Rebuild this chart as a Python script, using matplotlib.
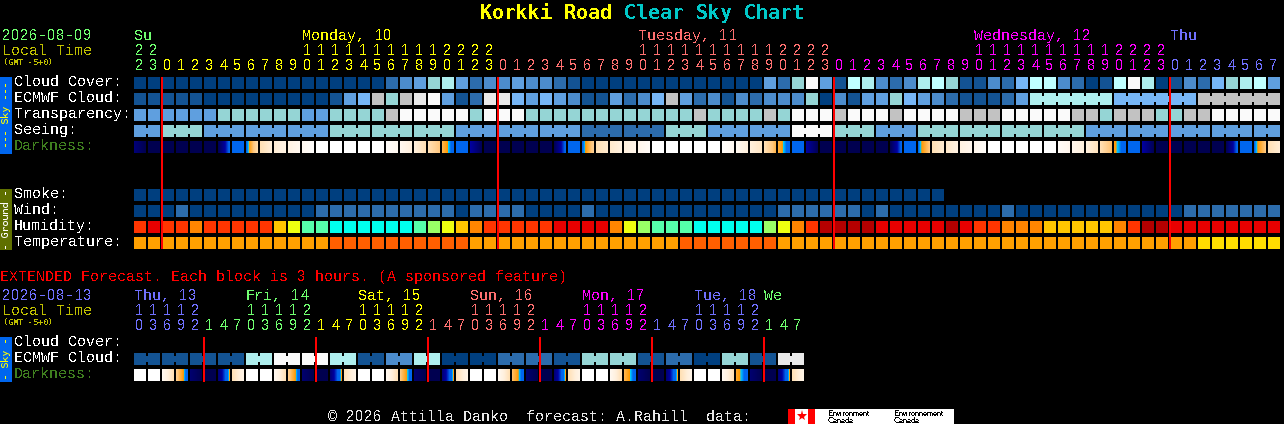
import re

import numpy as np
import matplotlib
matplotlib.use("Agg")
import matplotlib.pyplot as plt
from matplotlib.colors import LinearSegmentedColormap

plt.rcParams["text.antialiased"] = False
plt.rcParams["text.hinting"] = "native"
plt.rcParams["text.hinting_factor"] = 1

# cloud style palette, index 11 is the "too cloudy" gray
SKY = ["#003F7F", "#135393", "#2C6CAC", "#4C8CCC", "#5F9FDF", "#76B6F6",
       "#95D5D5", "#AEEEEE", "#BFFFFF", "#E9E9E9", "#FAFAFA", "#C2C2C2"]
HUMID = ["#B50000", "#E80000", "#FF3500", "#FF8500", "#FFC500", "#EEFF10",
         "#99FF66", "#55FFAA", "#00FFEE"]
TEMP = ["#FFA000", "#FF5F00", "#FFDD00"]

GREEN, YELLOW, SALMON, MAGENTA, BLUE = "#70FF70", "#FFFF00", "#FF7070", "#FF00FF", "#7070FF"

hours = [22, 23] + list(range(24)) * 3 + list(range(8))
hour_colors = [GREEN] * 2 + [YELLOW] * 24 + [SALMON] * 24 + [MAGENTA] * 24 + [BLUE] * 8
day_labels = ["Su", "Monday, 10", "Tuesday, 11", "Wednesday, 12", "Thu"]
day_cols = [0, 12, 36, 60, 74]
day_colors = [GREEN, YELLOW, SALMON, MAGENTA, BLUE]
midnights = [2, 26, 50, 74]

cloud_cover = [0, 0, 0, 0, 0, 0, 0, 0, 0, 0, 0, 0, 0, 0, 0, 0, 0, 0, 2, 3, 4, 6,
               7, 4, 2, 3, 3, 4, 3, 3, 2, 1, 0, 0, 0, 0, 0, 0, 0, 0, 0, 0, 0, 0, 0,
               4, 2, 6, 10, 4, 1, 8, 7, 3, 2, 3, 7, 8, 6, 1, 1, 3, 2, 5, 8, 8, 3, 2,
               0, 1, 8, 10, 7, 0, 1, 3, 2, 5, 6, 7, 8, 4]
ecmwf_cloud = [1, 1, 1, 1, 1, 0, 0, 0, 0, 0, 0, 0, 0, 0, 1, 4, 5, 11, 6, 11, 9, 10,
               4, 1, 2, 9, 9, 5, 4, 5, 4, 3, 1, 1, 4, 2, 3, 5, 11, 4, 2, 3, 1, 3, 2,
               3, 3, 3, 6, 0, 3, 1, 4, 4, 6, 5, 4, 3, 2, 1, 1, 1, 2, 4,
               7, 7, 7, 7, 7, 7, 5, 5, 5, 5, 5, 5, 11, 11, 11, 11, 11, 11]
ecmwf_blocks = [1] * 64 + [6] * 3
transparency = [4, 4, 4, 4, 4, 4, 6, 6, 6, 6, 6, 6, 4, 4, 6, 6, 6, 6, 11, 10, 10, 10,
                10, 10, 6, 10, 10, 10, 6, 6, 6, 6, 6, 6, 6, 6, 6, 6, 6, 6, 11, 6, 6, 6, 6,
                11, 6, 10, 10, 10, 11, 10, 10, 10, 11, 10, 10, 10, 10, 11, 11, 11,
                10, 10, 10, 10, 10, 11, 11, 6, 11, 11, 11, 6, 6, 11, 11, 10, 10, 10, 10, 10]
seeing_blocks = [2] + [3] * 26 + [2]
seeing_values = [4, 6, 4, 4, 4, 6, 6, 6, 4, 4, 4, 2, 2, 6, 4, 4, 10, 6, 4, 6, 6, 6, 6, 4, 4, 4, 4, 4]

# darkness is a gradient, value at left and right edge of each block
dark_left = [1, 0, 0, 0, 0, 0, .2, 3.3, 3.5, 6, 6.8, 7.3, 8, 9, 9, 9, 9, 9, 8.6, 8, 7, 6,
             4.6, 3.3, 2, 0, 0, 0, 0, 0, .2, 3.3, 3.5, 6, 6.6, 7, 7.7, 9, 9, 9, 9, 9, 8.6, 8, 7, 6,
             4.4, 3.3, 2, 0, 0, 0, 0, 0, .2, 3.3, 3.6, 6, 6.5, 7.2, 7.8, 9, 9, 9, 9, 9, 8.5, 7.8, 7, 6,
             4.1, 3.3, 2, 0, 0, 0, 0, 0, .2, 3.3, 3.6, 6]
dark_right = [0, 0, 0, 0, 0, 0, 3.2, 3.3, 5.8, 6.9, 7.3, 8, 8.8, 9, 9, 9, 9, 9, 8, 7, 6, 5,
              3.3, 3.3, .2, 0, 0, 0, 0, 0, 3.2, 3.3, 5.3, 6.6, 7.1, 7.7, 8.5, 9, 9, 9, 9, 9, 8, 7, 6.4, 4.6,
              3.3, 3.3, .2, 0, 0, 0, 0, 0, 3.2, 3.3, 5, 6.7, 7.2, 7.8, 8.6, 9, 9, 9, 9, 9, 7.8, 7, 6.2, 4.8,
              3.3, 3.3, .2, 0, 0, 0, 0, 0, 3.2, 3.3, 5, 6.8]

smoke = [0] * 58
wind = [0, 0, 0, 2, 0, 0, 0, 0, 0, 0, 0, 0, 0, 2, 2, 2, 2, 2, 2, 2, 2, 2, 2, 0, 2, 2, 2, 2,
        0, 0, 0, 0, 2, 0, 0, 0, 0, 0, 0, 0, 0, 0, 0, 0, 0, 0, 2, 2, 2, 2, 2, 2, 0, 2,
        0, 0, 0, 0, 0, 0, 0, 0, 2, 0, 0, 0, 0, 0, 0, 0, 0, 0, 0, 0, 0, 2, 2, 2, 2, 2, 2, 2]
humidity = [2, 1, 2, 2, 3, 2, 2, 2, 2, 2, 4, 5, 7, 7, 8, 8, 8, 8, 8, 8, 7, 6, 5, 4, 3, 2, 2, 2, 2, 2,
            1, 1, 1, 1, 3, 5, 6, 7, 7, 7, 8, 8, 8, 8, 8, 6, 5, 3, 2, 0, 0, 0, 0, 1, 1, 1, 1, 1, 0, 1,
            2, 2, 3, 3, 3, 4, 4, 4, 4, 4, 3, 2, 0, 0, 1, 1, 1, 1, 1, 1, 1, 1]
temperature = [0] * 14 + [1] * 10 + [0] * 15 + [1] * 7 + [0] * 30 + [2] * 6

# extended forecast, 3 hour blocks
ext_hours = [10, 13, 16, 19, 22, 1, 4, 7] * 6
ext_hour_colors = [BLUE] * 5 + [GREEN] * 8 + [YELLOW] * 8 + [SALMON] * 8 + [MAGENTA] * 8 + [BLUE] * 8 + [GREEN] * 3
ext_day_labels = ["Thu, 13", "Fri, 14", "Sat, 15", "Sun, 16", "Mon, 17", "Tue, 18", "We"]
ext_day_cols = [0, 8, 16, 24, 32, 40, 45]
ext_day_colors = [BLUE, GREEN, YELLOW, SALMON, MAGENTA, BLUE, GREEN]
ext_midnights = [5, 13, 21, 29, 37, 45]
ext_blocks = [2] * 24
ext_ecmwf = [1, 1, 1, 1, 7, 10, 10, 7, 1, 3, 7, 0, 0, 2, 2, 1, 6, 6, 1, 2, 0, 6, 1, 9]
ext_dark_left = [9, 9, 8, 5.2, .8, 0, 1, 6, 9, 9, 8, 5.2, .8, 0, 1, 6, 9, 9, 8, 5, .8, 0, 1, 6,
                 9, 9, 8, 4.8, .8, 0, 1, 6, 9, 9, 8, 4.6, .8, 0, 1, 6, 9, 9, 8, 4.3, .8, 0, 1, 6]
ext_dark_right = [9, 9, 6, 3.3, 0, 0, 4.1, 7.5, 9, 9, 6, 3.3, 0, 0, 4.1, 7.5, 9, 9, 6, 3.3, 0, 0, 4.1, 7.5,
                  9, 9, 6, 3.3, 0, 0, 4.1, 7.5, 9, 9, 6, 3.3, 0, 0, 4.1, 7.5, 9, 9, 6, 3.3, 0, 0, 4.1, 7.5]

dark_cmap = LinearSegmentedColormap.from_list("darkness", [
    (0.00, "#000050"), (0.20, "#0000A0"), (0.30, "#0066EE"), (0.36, "#0066EE"),
    (0.39, "#00CCFF"), (0.40, "#FF9900"), (0.50, "#FFC880"), (0.60, "#FFE0B5"),
    (0.70, "#FFF0DD"), (0.80, "#FFF8F0"), (0.90, "#FFFFFF"), (1.00, "#FFFFFF")], N=512)

LEFT = 134
STEP = 14
CELL = 12
MONO = "Liberation Mono"
DIGITS = "Liberation Sans"   # plain zero, Liberation Mono has a dotted one
TXT = 10.8
ADVANCE = 9

fig = plt.figure(figsize=(12.84, 4.24), dpi=100, facecolor="black")
ax = fig.add_axes([0, 0, 1, 1])
ax.set_facecolor("black")


def label(x, y, s, color="white", size=TXT, family=MONO, **kw):
    if family != MONO:
        ax.text(x, y, s, color=color, fontsize=size, family=family, va="baseline", **kw)
        return
    # digits go one by one into the 9 px slots of the mono font, the words in between as runs
    for m in re.finditer(r"\d|[^\d\s](?:[^\d]*[^\d\s])?", s):
        x0 = x + ADVANCE * m.start()
        if m.group().isdigit():
            ax.text(x0 + 4.5, y, m.group(), color=color, fontsize=size, family=DIGITS,
                    va="baseline", ha="center")
        else:
            ax.text(x0, y, m.group(), color=color, fontsize=size, family=MONO, va="baseline", **kw)


def cells(y, values, palette, blocks=None):
    x = LEFT + STEP * np.arange(len(values))
    ax.bar(x, CELL, CELL, bottom=y, align="edge", linewidth=0, antialiased=False,
           color=[palette[v] for v in values])
    if blocks is None:
        return
    # blocks that belong together are joined by a small bridge
    start = 0
    for n in blocks:
        for j in range(start, start + n - 1):
            ax.bar(x[j] + CELL, CELL - 6, STEP - CELL, bottom=y + 3, align="edge",
                   linewidth=0, antialiased=False, color=palette[values[j]])
        start += n


def darkness(y, left, right):
    for i, (a, b) in enumerate(zip(left, right)):
        x = LEFT + STEP * i
        ax.imshow(np.linspace(a, b, CELL)[None, :], cmap=dark_cmap, vmin=0, vmax=10,
                  extent=(x, x + CELL, y + CELL, y), aspect="auto", interpolation="nearest")


def hour_rows(y_tens, y_ones, values, colors):
    for i, (h, c) in enumerate(zip(values, colors)):
        x = LEFT + STEP * i + 1
        if h >= 10:
            label(x, y_tens, str(h // 10), c)
        label(x, y_ones, str(h % 10), c)


def side_bar(y0, y1, text, bar_color, text_color):
    ax.bar(0, y1 - y0, 12, bottom=y0, align="edge", linewidth=0, antialiased=False, color=bar_color)
    ax.text(6, (y0 + y1) / 2, text, color=text_color, fontsize=7.2, family="DejaVu Sans Mono",
            rotation=90, ha="center", va="center", antialiased=True)


# title
label(480, 19, "Korkki Road", "#FFFF00", 14.4, family="DejaVu Sans Mono", fontweight="bold")
label(624, 19, "Clear Sky Chart", "#00C8C8", 14.4, family="DejaVu Sans Mono", fontweight="bold")

# main chart header
label(2, 40, "2026-08-09", GREEN)
label(2, 55, "Local Time", "#C0C000")
label(3, 65, "(GMT -5+0)", "#C0C000", 5.6, family="DejaVu Sans Mono")
for col, s, c in zip(day_cols, day_labels, day_colors):
    label(LEFT + STEP * col, 40, s, c)
hour_rows(55, 70, hours, hour_colors)

# main chart rows
row_names = ["Cloud Cover:", "ECMWF Cloud:", "Transparency:", "Seeing:"]
for k, s in enumerate(row_names):
    label(14, 86 + 16 * k, s)
label(14, 150, "Darkness:", "#3F7F1F")
cells(77, cloud_cover, SKY)
cells(93, ecmwf_cloud, SKY, ecmwf_blocks)
cells(109, transparency, SKY)
cells(125, np.repeat(seeing_values, seeing_blocks), SKY, seeing_blocks)
darkness(141, dark_left, dark_right)
side_bar(77, 154, "--- Sky ---", "#0066EE", "#FFFF00")

for k, s in enumerate(["Smoke:", "Wind:", "Humidity:", "Temperature:"]):
    label(14, 198 + 16 * k, s)
cells(189, smoke, SKY)
cells(205, wind, SKY)
cells(221, humidity, HUMID)
cells(237, temperature, TEMP)
side_bar(189, 250, "- Ground -", "#5F7000", "#FFFFFF")

ax.bar([LEFT + STEP * m - 1 for m in midnights], 172, 2, bottom=77, align="edge",
       linewidth=0, antialiased=False, color="#FF0000")

# extended forecast
label(0, 281, "EXTENDED Forecast. Each block is 3 hours. (A sponsored feature)", "#FF0000")
label(2, 300, "2026-08-13", BLUE)
label(2, 315, "Local Time", "#C0C000")
label(3, 325, "(GMT -5+0)", "#C0C000", 5.6, family="DejaVu Sans Mono")
for col, s, c in zip(ext_day_cols, ext_day_labels, ext_day_colors):
    label(LEFT + STEP * col, 300, s, c)
hour_rows(315, 330, ext_hours, ext_hour_colors)

label(14, 346, "Cloud Cover:")
label(14, 362, "ECMWF Cloud:")
label(14, 378, "Darkness:", "#3F7F1F")
cells(353, np.repeat(ext_ecmwf, ext_blocks), SKY, ext_blocks)
darkness(369, ext_dark_left, ext_dark_right)
side_bar(337, 382, "- Sky -", "#0066EE", "#FFFF00")
ax.bar([LEFT + STEP * m - 1 for m in ext_midnights], 45, 2, bottom=337, align="edge",
       linewidth=0, antialiased=False, color="#FF0000")

# footer
label(328, 421, "\u00a9 2026 Attilla Danko  forecast: A.Rahill  data:", "#E8E8E8")
ax.bar(815, 15, 139, bottom=409, align="edge", linewidth=0, antialiased=False, color="white")
ax.bar(795, 15, 13, bottom=409, align="edge", linewidth=0, antialiased=False, color="white")
ax.bar([788, 808], 15, 7, bottom=409, align="edge", linewidth=0, antialiased=False, color="#FF0000")
ax.plot([801.5], [416], marker="*", markersize=8, color="#FF0000", markeredgewidth=0)
for x, s in [(828, "Environment"), (894, "Environnement")]:
    ax.text(x, 416, s, color="black", fontsize=6, family="Liberation Sans", va="baseline")
    ax.text(x, 423, "Canada", color="black", fontsize=6, family="Liberation Sans", va="baseline")

ax.set_xlim(0, 1284)
ax.set_ylim(424, 0)
ax.axis("off")

fig.savefig("out.png", dpi=100, facecolor="black")
